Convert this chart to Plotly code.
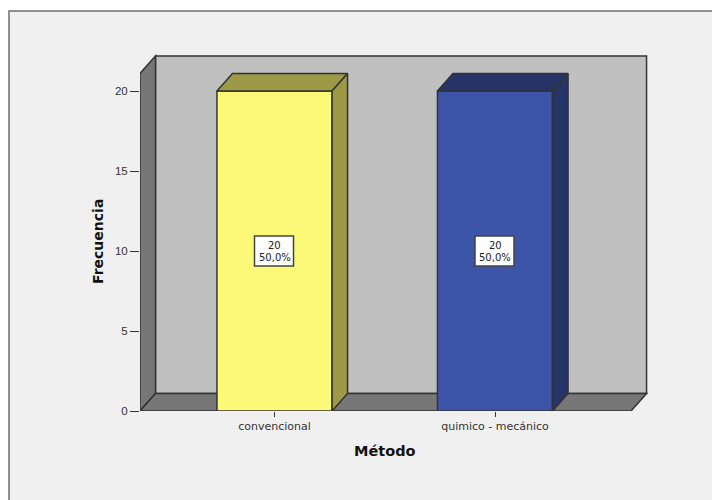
import plotly.graph_objects as go

# Frequency of each method
categories = ["convencional", "quimico - mecánico"]
counts = [20, 20]
percent_labels = ["50,0%", "50,0%"]
y_ticks = [0, 5, 10, 15, 20]

front_colors = ["#FCF878", "#3C55A8"]
side_colors = ["#9C9A46", "#263468"]
OUTLINE = "#333333"
WALL = "#C0C0C0"
FLOOR = "#777777"
PAGE = "#F0F0F0"

# Box extents and the oblique offset of the pseudo-3D depth, in axis units
X_LEFT, X_RIGHT = -0.61, 1.617
Y_TOP = 21.1
DX, DY = 0.0703, 1.094
BAR_WIDTH = 0.522

# Margins pin the plot area so the axis scale is 220.5 px per category, 16 px per count
L, R, T, B = 140, 60, 50, 89
PLOT_W, PLOT_H = 712 - L - R, 500 - T - B
XR = [X_LEFT, X_LEFT + PLOT_W / 220.5]
YR = [0, PLOT_H / 16]


def px_x(px):
    return (px - L) / PLOT_W


def px_y(px):
    return 1 - (px - T) / PLOT_H


def path(points):
    return "M " + " L ".join(f"{x},{y}" for x, y in points) + " Z"


def box_shape(points, fill):
    return dict(type="path", xref="x", yref="y", layer="below", path=path(points),
                fillcolor=fill, line=dict(color=OUTLINE, width=1.5))


shapes = [
    # Chart window: grey panel with an edge on its top and left, running off the page
    dict(type="rect", xref="paper", yref="paper", layer="below",
         x0=px_x(9), x1=px_x(730), y0=px_y(11), y1=px_y(520),
         fillcolor=PAGE, line=dict(color="#6e6e6e", width=1.5)),
    box_shape([(X_LEFT + DX, DY), (X_RIGHT + DX, DY), (X_RIGHT + DX, Y_TOP + DY), (X_LEFT + DX, Y_TOP + DY)], WALL),
    box_shape([(X_LEFT, 0), (X_LEFT + DX, DY), (X_LEFT + DX, Y_TOP + DY), (X_LEFT, Y_TOP)], FLOOR),
    box_shape([(X_LEFT, 0), (X_RIGHT, 0), (X_RIGHT + DX, DY), (X_LEFT + DX, DY)], FLOOR),
]

fig = go.Figure()
positions = list(range(len(categories)))

fig.add_trace(go.Bar(
    x=positions, y=counts, width=BAR_WIDTH,
    marker=dict(color=front_colors, line=dict(color=OUTLINE, width=1.5)),
    hoverinfo="skip", showlegend=False,
))

# Top and right faces of each bar
for pos, value, side in zip(positions, counts, side_colors):
    left, right = pos - BAR_WIDTH / 2, pos + BAR_WIDTH / 2
    top_x = [left, right, right + DX, left + DX, left]
    top_y = [value, value, value + DY, value + DY, value]
    side_x = [right, right + DX, right + DX, right, right]
    side_y = [0, DY, value + DY, value, 0]
    for xs, ys in ((top_x, top_y), (side_x, side_y)):
        fig.add_trace(go.Scatter(
            x=xs, y=ys, mode="lines", fill="toself", fillcolor=side,
            line=dict(color=OUTLINE, width=1.5), hoverinfo="skip",
            showlegend=False, cliponaxis=False,
        ))

annotations = []
label_font = dict(family="DejaVu Sans", size=10, color="#222222")

# Value boxes at mid-height of the bars, with tight two-line text
for pos, value, pct in zip(positions, counts, percent_labels):
    shapes.append(dict(
        type="rect", xref="x", yref="y", xsizemode="pixel", ysizemode="pixel",
        xanchor=pos, yanchor=value / 2, x0=-20, x1=19, y0=-15, y1=15,
        fillcolor="white", line=dict(color="#444444", width=1.5), layer="above",
    ))
    for text, shift in ((str(value), 6), (pct, -6)):
        annotations.append(dict(x=pos, y=value / 2, yshift=shift, text=text,
                                showarrow=False, font=label_font))

# Axis titles
annotations.append(dict(
    xref="paper", yref="paper", x=px_x(385), y=px_y(451), text="<b>Método</b>",
    xanchor="center", yanchor="middle", showarrow=False,
    font=dict(family="DejaVu Sans", size=14.5, color="#111111"),
))
annotations.append(dict(
    xref="paper", yref="paper", x=px_x(98), y=px_y(242), text="<b>Frecuencia</b>",
    xanchor="center", yanchor="middle", textangle=-90, showarrow=False,
    font=dict(family="DejaVu Sans", size=14, color="#111111"),
))

fig.update_layout(
    width=712, height=500,
    margin=dict(l=L, r=R, t=T, b=B, autoexpand=False),
    paper_bgcolor="white", plot_bgcolor="rgba(0,0,0,0)",
    shapes=shapes, annotations=annotations, showlegend=False,
    xaxis=dict(
        range=XR, tickmode="array", tickvals=positions, ticktext=categories,
        showgrid=False, zeroline=False, showline=False,
        ticks="outside", ticklen=5, tickwidth=1, tickcolor="#333333",
        tickfont=dict(family="DejaVu Sans", size=11, color="#333333"),
    ),
    yaxis=dict(
        range=YR, tickmode="array", tickvals=y_ticks,
        showgrid=False, zeroline=False, showline=False,
        ticks="outside", ticklen=9, tickwidth=1, tickcolor="#333333",
        tickfont=dict(family="Liberation Sans", size=11.5, color="#333333"),
    ),
)

fig.write_html("out.html", config=dict(displayModeBar=False))
